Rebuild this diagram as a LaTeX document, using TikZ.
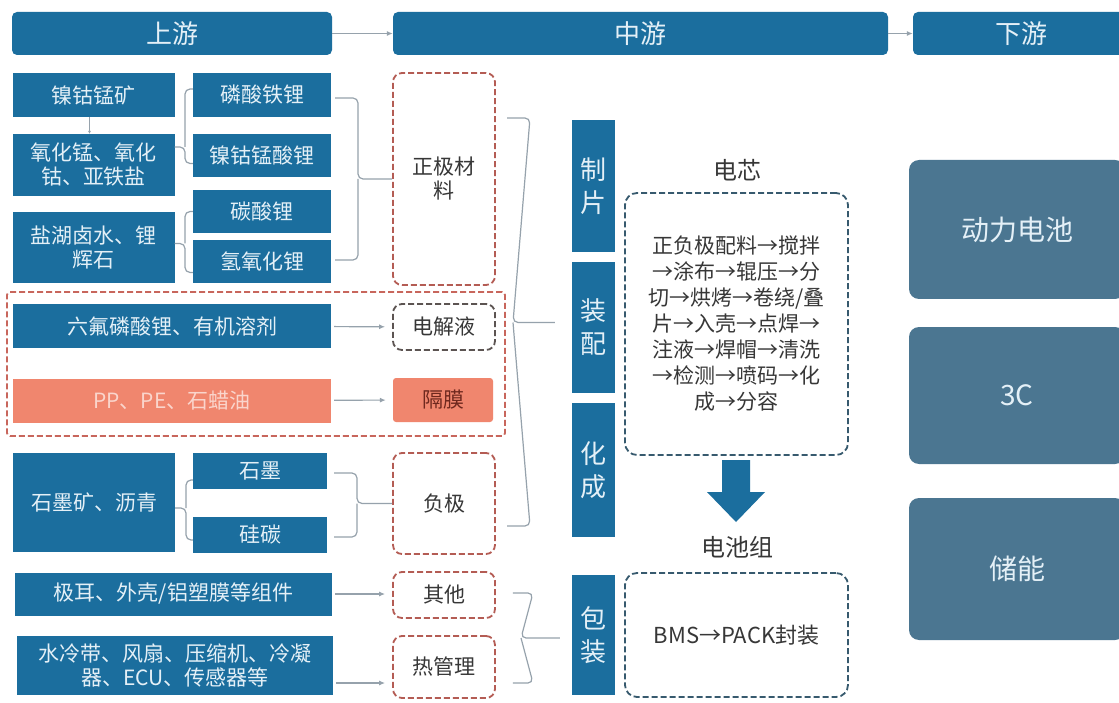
\documentclass[tikz,border=0pt]{standalone}
\usepackage{fontspec}
\setmainfont{Noto Sans CJK SC}
\usetikzlibrary{arrows.meta}

\definecolor{upblue}{RGB}{27,110,158}
\definecolor{mktblue}{RGB}{75,118,145}
\definecolor{salmon}{RGB}{240,134,110}
\definecolor{redash}{RGB}{180,92,84}
\definecolor{grpdash}{RGB}{200,102,92}
\definecolor{greydash}{RGB}{92,84,82}
\definecolor{bluedash}{RGB}{55,90,110}
\definecolor{linkgrey}{RGB}{150,162,172}
\definecolor{lighttext}{RGB}{228,240,247}
\definecolor{darktext}{RGB}{55,55,55}
\definecolor{septext}{RGB}{110,40,30}

\tikzset{
  hdr/.style={fill=upblue, rounded corners=5, text=lighttext, inner sep=2,
    font=\fontsize{26}{30}\selectfont},
  ubox/.style={fill=upblue, text=lighttext, align=center, inner sep=2,
    font=\fontsize{21}{24}\selectfont},
  pbox/.style={draw=redash, dash pattern=on 6pt off 3pt, line width=1.8,
    rounded corners=9, text=darktext, align=center, inner sep=2,
    font=\fontsize{21}{24}\selectfont},
  salbox/.style={fill=salmon, inner sep=2, font=\fontsize{21}{24}\selectfont},
  bar/.style={fill=upblue, text=lighttext, align=center, inner sep=2,
    minimum width=43, font=\fontsize{26}{33}\selectfont},
  cellbox/.style={draw=bluedash, dash pattern=on 6pt off 3pt, line width=1.8,
    rounded corners=12, minimum width=223, text=darktext, align=center,
    font=\fontsize{21}{26}\selectfont},
  mkt/.style={fill=mktblue, rounded corners=10, minimum width=216, text=lighttext,
    font=\fontsize{28}{32}\selectfont},
  lnk/.style={draw=linkgrey, line width=1.2, -{Latex[length=6,width=5]}},
  brk/.style={draw=linkgrey, line width=1.2, rounded corners=5},
}

\begin{document}
\begin{tikzpicture}[x=1pt, y=-1pt]
    \clip (0,0) rectangle (1119,703);
    \fill[white] (0,0) rectangle (1119,703);

    % Headers
    \node[hdr, minimum width=320, minimum height=43] (up) at (172,33.5) {上游};
    \node[hdr, minimum width=495, minimum height=43] (mid) at (640.5,33.5) {中游};
    \node[hdr, minimum width=217, minimum height=43] (down) at (1021.5,33.5) {下游};
    \draw[lnk] (up) -- (mid);
    \draw[lnk] (mid) -- (down);

    % Cathode raw materials
    \node[ubox, minimum width=162, minimum height=44] (ncm) at (93.5,95) {镍钴锰矿};
    \node[ubox, minimum width=162, minimum height=62] (oxd) at (93.5,165) {氧化锰、氧化\\钴、亚铁盐};
    \node[ubox, minimum width=162, minimum height=71] (brine) at (93.5,247.5) {盐湖卤水、锂\\辉石};
    \node[ubox, minimum width=138, minimum height=44] (lfp) at (262,95) {磷酸铁锂};
    \node[ubox, minimum width=138, minimum height=43] (ncma) at (262,155.5) {镍钴锰酸锂};
    \node[ubox, minimum width=138, minimum height=43] (lico) at (262,211.5) {碳酸锂};
    \node[ubox, minimum width=138, minimum height=43] (lioh) at (262,261.5) {氢氧化锂};
    \node[pbox, minimum width=102, minimum height=212] (cath) at (444,179) {正极材\\料};
    \draw[linkgrey, line width=1, -{Latex[length=3,width=3]}] ([xshift=-4]ncm.south) -- ([xshift=-4]oxd.north);

    % Brackets, cathode
    \coordinate (s1) at (185,0);
    \coordinate (s3) at (358,0);
    \draw[brk] ([yshift=6]lfp.west) -- ([yshift=6]lfp.west -| s1) -- ([yshift=18]oxd.east -| s1);
    \draw[brk] ([yshift=-8]ncma.west) -- ([yshift=-8]ncma.west -| s1) -- ([yshift=18]oxd.east -| s1) -- ([yshift=18]oxd.east);
    \draw[brk] (lico.west) -- (lico.west -| s1) -- ([yshift=4]brine.east -| s1);
    \draw[brk] ([yshift=-11]lioh.west) -- ([yshift=-11]lioh.west -| s1) -- ([yshift=4]brine.east -| s1) -- ([yshift=4]brine.east);
    \draw[brk] ([xshift=4,yshift=-3]lfp.east) -- ([yshift=-3]lfp.east -| s3) -- (cath.west -| s3) -- (cath.west);
    \draw[brk] ([xshift=4,yshift=1.5]lioh.east) -- ([yshift=1.5]lioh.east -| s3) -- (cath.west -| s3);

    % Electrolyte and separator
    \node[draw=grpdash, dash pattern=on 6pt off 3pt, line width=1.8, rounded corners=3,
      minimum width=498, minimum height=144] (elgrp) at (256,364) {};
    \node[ubox, minimum width=318, minimum height=44] (hf) at (172,326) {六氟磷酸锂、有机溶剂};
    \node[pbox, draw=greydash, minimum width=102, minimum height=46] (elyt) at (444,327) {电解液};
    \node[salbox, text=salmon!35, minimum width=318, minimum height=44] (pp) at (172,400.5) {PP、PE、石蜡油};
    \node[salbox, rounded corners=3, text=septext, minimum width=100, minimum height=44] (sep) at (443,400) {隔膜};
    \draw[lnk, shorten <=3, shorten >=7] (hf) -- (elyt);
    \draw[lnk, shorten <=3, shorten >=7] (pp) -- (sep);

    % Anode
    \node[ubox, minimum width=162, minimum height=99] (gore) at (94,502.5) {石墨矿、沥青};
    \node[ubox, minimum width=134, minimum height=36] (gph) at (260,471) {石墨};
    \node[ubox, minimum width=134, minimum height=36] (sic) at (260,535) {硅碳};
    \node[pbox, minimum width=102, minimum height=101] (anode) at (444,503.5) {负极};
    \coordinate (s4) at (186,0);
    \coordinate (s5) at (357,0);
    \draw[brk] ([yshift=-9]gph.west) -- ([yshift=-9]gph.west -| s4) -- ([yshift=-5.5]gore.east -| s4);
    \draw[brk] ([yshift=-5]sic.west) -- ([yshift=-5]sic.west -| s4) -- ([yshift=-5.5]gore.east -| s4) -- ([yshift=-5.5]gore.east);
    \draw[brk] ([xshift=7,yshift=-2]gph.east) -- ([yshift=-2]gph.east -| s5) -- (anode.west -| s5) -- (anode.west);
    \draw[brk] ([xshift=7,yshift=-2]sic.east) -- ([yshift=-2]sic.east -| s5) -- (anode.west -| s5);

    % Other parts
    \node[ubox, minimum width=317, minimum height=43] (tab) at (173.5,594) {极耳、外壳/铝塑膜等组件};
    \node[pbox, minimum width=102, minimum height=46] (oth) at (444,595) {其他};
    \node[ubox, minimum width=316, minimum height=59] (cool) at (175,665.5) {水冷带、风扇、压缩机、冷凝\\器、ECU、传感器等};
    \node[pbox, minimum width=102, minimum height=62] (thm) at (444,667) {热管理};
    \draw[lnk, shorten <=3, shorten >=7] (tab.east) -- (tab.east -| oth.west);
    \draw[lnk, shorten <=3, shorten >=7] ([yshift=-17.5]cool.east) -- ([yshift=-16]thm.west);

    % Midstream steps
    \node[bar, minimum height=132] (sheet) at (593.5,186) {制\\片};
    \node[bar, minimum height=131] (assem) at (593.5,327.5) {装\\配};
    \node[bar, minimum height=134] (form) at (593.5,470) {化\\成};
    \node[bar, minimum height=120] (pack) at (593.5,635) {包\\装};

    % Big brackets
    \coordinate (m1) at (507,118);
    \coordinate (m2) at (507,526);
    \coordinate (ms) at (530,0);
    \draw[brk] (m1) -- (m1 -| ms) -- ([xshift=-17,yshift=5]assem.west -| ms) -- ([xshift=-17,yshift=5]assem.west);
    \draw[brk] (m2) -- (m2 -| ms) -- ([xshift=-17,yshift=5]assem.west -| ms);
    \coordinate (ps) at (533,0);
    \draw[brk] ([xshift=17,yshift=2]oth.east) -- ([yshift=2]oth.east -| ps) -- ([xshift=-12,yshift=-3]pack.west -| ps) -- ([xshift=-12,yshift=-3]pack.west);
    \draw[brk] ([xshift=17,yshift=-16]thm.east) -- ([yshift=-16]thm.east -| ps) -- ([xshift=-12,yshift=-3]pack.west -| ps);

    % Cell
    \node[font=\fontsize{24}{28}\selectfont, text=darktext] (celllbl) at (737,170) {电芯};
    \node[cellbox, minimum height=262] (cell) at (736.5,324) {正负极配料→搅拌\\→涂布→辊压→分\\切→烘烤→卷绕/叠\\片→入壳→点焊→\\注液→焊帽→清洗\\→检测→喷码→化\\成→分容};
    \fill[upblue] (722,460) -- (750,460) -- (750,492) -- (765,492) -- (736,522)
      -- (707,492) -- (722,492) -- cycle;

    % Battery pack
    \node[font=\fontsize{24}{28}\selectfont, text=darktext] (packlbl) at (737,547) {电池组};
    \node[cellbox, minimum height=124, font=\fontsize{22}{26}\selectfont] (bms) at (736.5,635) {BMS→PACK封装};

    % Downstream
    \node[mkt, minimum height=139] (ev) at (1017,229.5) {动力电池};
    \node[mkt, minimum height=137] (cc) at (1017,395.5) {3C};
    \node[mkt, minimum height=142] (ess) at (1017,569) {储能};
\end{tikzpicture}
\end{document}
